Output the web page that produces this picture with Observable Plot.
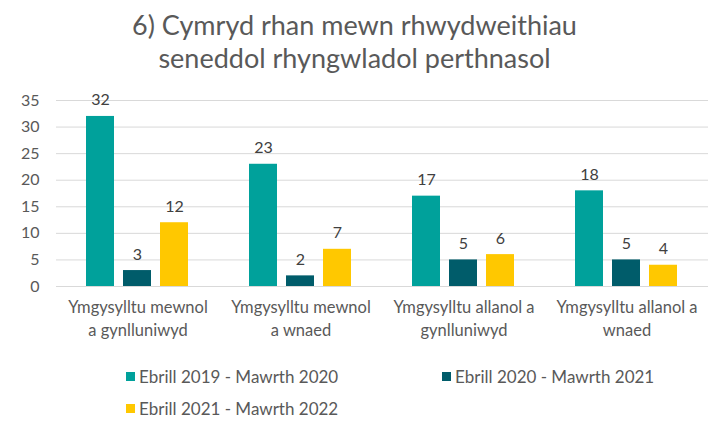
<!DOCTYPE html>
<html>
<head>
<meta charset="utf-8">
<script src="https://cdn.jsdelivr.net/npm/d3@7"></script>
<script src="https://cdn.jsdelivr.net/npm/@observablehq/plot@0.6"></script>
<style>
  html, body { margin: 0; padding: 0; background: #fff; }
  body { width: 709px; height: 422px; position: relative; font-family: Lato, "Open Sans", sans-serif; color: #595959; overflow: hidden; }
  #title { position: absolute; left: 0; top: 8px; width: 709px; text-align: center; font-size: 27px; line-height: 33px; color: #595959; }
  #chart { position: absolute; left: 0; top: 85px; }
  .leg { position: absolute; font-size: 17px; color: #595959; display: flex; align-items: center; white-space: nowrap; }
  .leg span.sw { display: inline-block; width: 9px; height: 9px; margin-right: 4px; }
</style>
</head>
<body>
<div id="title">6) Cymryd rhan mewn rhwydweithiau<br>seneddol rhyngwladol perthnasol</div>
<div id="chart"></div>
<div id="legend"></div>
<script>
const categories = [
  "Ymgysylltu mewnol a gynlluniwyd",
  "Ymgysylltu mewnol a wnaed",
  "Ymgysylltu allanol a gynlluniwyd",
  "Ymgysylltu allanol a wnaed"
];
const categoryLabels = [
  "Ymgysylltu mewnol\na gynlluniwyd",
  "Ymgysylltu mewnol\na wnaed",
  "Ymgysylltu allanol a\ngynlluniwyd",
  "Ymgysylltu allanol a\nwnaed"
];
const seriesNames = ["Ebrill 2019 - Mawrth 2020", "Ebrill 2020 - Mawrth 2021", "Ebrill 2021 - Mawrth 2022"];
const seriesColors = ["#00A19B", "#005C6A", "#FFC800"];
const values2019 = [32, 23, 17, 18];
const values2020 = [3, 2, 5, 5];
const values2021 = [12, 7, 6, 4];
const yTicks = [0, 5, 10, 15, 20, 25, 30, 35];

const allValues = [values2019, values2020, values2021];
const data = [];
categories.forEach((c, i) => {
  seriesNames.forEach((s, j) => data.push({category: c, series: s, value: allValues[j][i]}));
});

const chart = Plot.plot({
  width: 709,
  height: 265,
  marginLeft: 55,
  marginRight: 1,
  marginTop: 15,
  marginBottom: 64,
  style: {fontFamily: "Lato, 'Open Sans', sans-serif", fontSize: "16px", color: "#595959", background: "#fff"},
  fx: {domain: categories, padding: 0, axis: null},
  x: {domain: seriesNames, paddingInner: 0.233, paddingOuter: 0.8, axis: null},
  y: {domain: [0, 35], ticks: yTicks, tickSize: 0, tickPadding: 17, label: null, grid: false},
  color: {domain: seriesNames, range: seriesColors},
  marks: [
    Plot.ruleY(yTicks, {stroke: "#d9d9d9", strokeWidth: 1}),
    Plot.barY(data, {fx: "category", x: "series", y: "value", fill: "series"}),
    Plot.text(data, {fx: "category", x: "series", y: "value", text: d => String(d.value), lineAnchor: "bottom", dy: -11, fill: "#404040", fontSize: 16}),
    Plot.text(categories, {fx: d => d, frameAnchor: "bottom", text: (d, i) => categoryLabels[i], lineAnchor: "top", dy: 10, lineHeight: 1.4, fill: "#595959", fontSize: 16.5})
  ]
});
document.getElementById("chart").appendChild(chart);

const legendPos = [[126, 376], [442, 376], [126, 408]];
const legend = document.getElementById("legend");
seriesNames.forEach((s, i) => {
  const d = document.createElement("div");
  d.className = "leg";
  d.style.left = legendPos[i][0] + "px";
  d.style.top = (legendPos[i][1] - 11) + "px";
  d.style.height = "22px";
  d.innerHTML = `<span class="sw" style="background:${seriesColors[i]}"></span>${s}`;
  legend.appendChild(d);
});
</script>
</body>
</html>
